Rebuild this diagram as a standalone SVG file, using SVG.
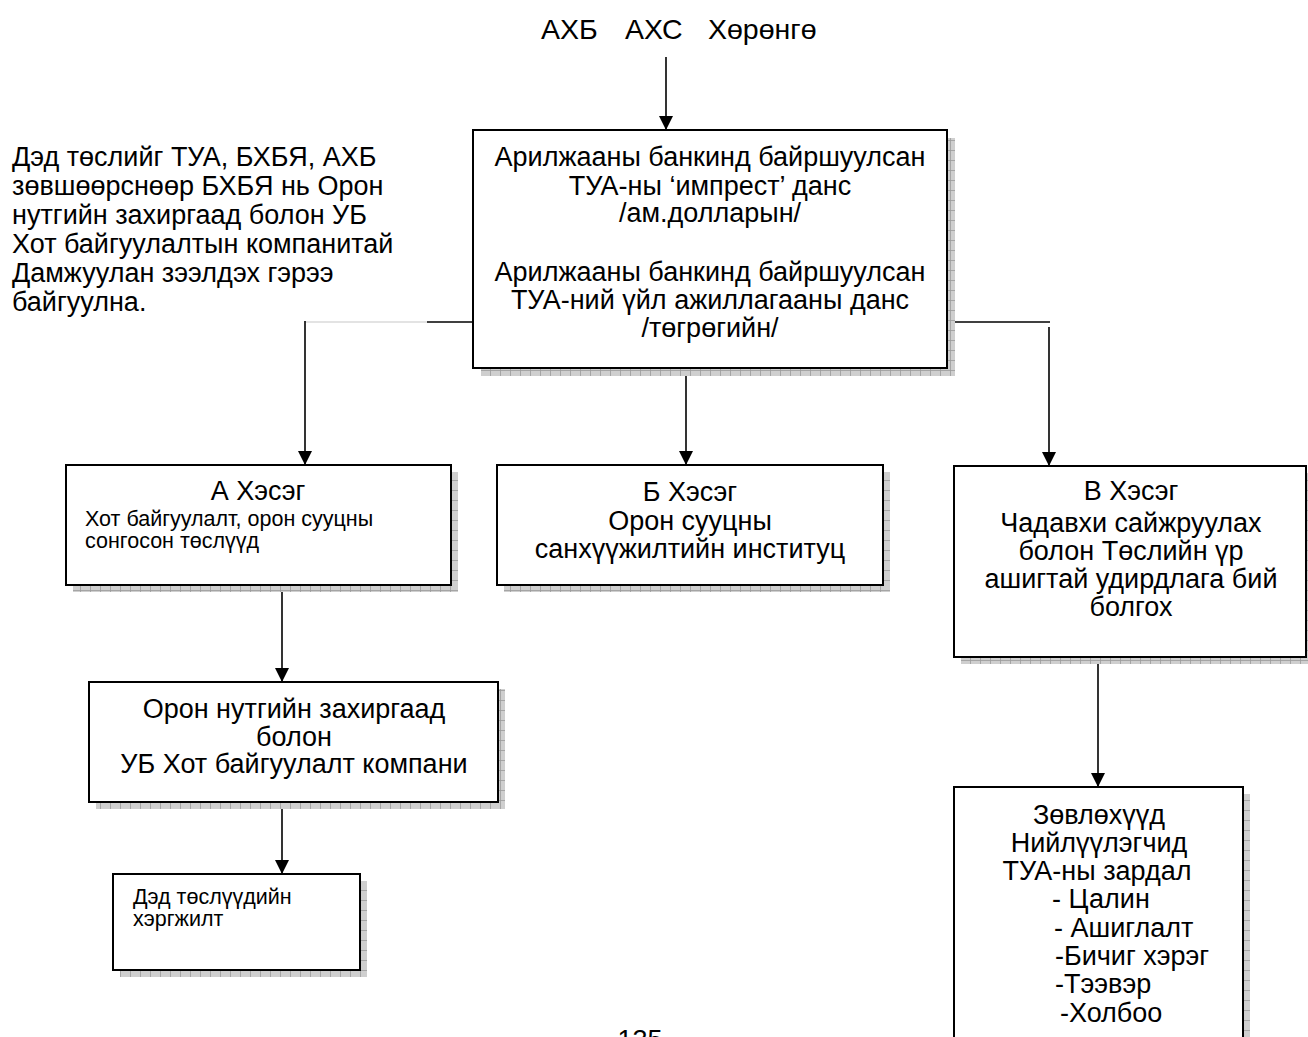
<svg xmlns="http://www.w3.org/2000/svg" width="1308" height="1037" viewBox="0 0 1308 1037">
  <defs>
    <pattern id="hatch" width="10" height="10" patternUnits="userSpaceOnUse">
      <rect width="10" height="10" fill="#cfcfcf"/>
      <path d="M0,0.5 H10 M0.5,0 V10" stroke="#9a9a9a" stroke-width="0.8" fill="none"/>
    </pattern>
    <marker id="arr" markerUnits="userSpaceOnUse" markerWidth="14" markerHeight="14" refX="14" refY="7" orient="auto">
      <path d="M0,0 L14,7 L0,14 z" fill="#000"/>
    </marker>
  </defs>
  <style>
    text { font-family: "Liberation Sans", Arial, sans-serif; fill: #000; }
    .big { font-size: 27px; }
    .top { font-size: 28.5px; }
    .small { font-size: 21.5px; }
    .c { text-anchor: middle; }
    .box { fill: #fff; stroke: #000; stroke-width: 2; }
    .shadow { fill: url(#hatch); }
    .ln { stroke: #000; stroke-width: 1.6; fill: none; }
    .arr { marker-end: url(#arr); }
  </style>
  <rect width="1308" height="1037" fill="#fff"/>

  <g id="source-label">
    <text class="top" y="39"><tspan x="541">АХБ</tspan><tspan x="625">АХС</tspan><tspan x="708">Хөрөнгө</tspan></text>
  </g>

  <g id="note">
    <text class="big" x="12" y="166">Дэд төслийг ТУА, БХБЯ, АХБ</text>
    <text class="big" x="12" y="195">зөвшөөрснөөр БХБЯ нь Орон</text>
    <text class="big" x="12" y="224">нутгийн захиргаад болон УБ</text>
    <text class="big" x="12" y="253">Хот байгуулалтын компанитай</text>
    <text class="big" x="12" y="282">Дамжуулан зээлдэх гэрээ</text>
    <text class="big" x="12" y="311">байгуулна.</text>
  </g>

  <g id="connectors">
    <line class="ln arr" x1="666" y1="57" x2="666" y2="130"/>
    <line x1="305" y1="322" x2="427" y2="322" stroke="#c8c8c8" stroke-width="1.2"/>
    <line class="ln" x1="427" y1="322" x2="473" y2="322"/>
    <line class="ln arr" x1="305" y1="321" x2="305" y2="465"/>
    <line class="ln arr" x1="686" y1="368" x2="686" y2="465"/>
    <line class="ln" x1="947" y1="322" x2="1050" y2="322"/>
    <line class="ln arr" x1="1049" y1="327" x2="1049" y2="466"/>
    <line class="ln arr" x1="282" y1="585" x2="282" y2="682"/>
    <line class="ln arr" x1="282" y1="802" x2="282" y2="874"/>
    <line class="ln arr" x1="1098" y1="657" x2="1098" y2="787"/>
  </g>

  <g id="accounts">
    <rect class="shadow" x="481" y="138" width="474" height="238"/>
    <rect class="box" x="473" y="130" width="474" height="238"/>
    <text class="big c" x="710" y="166">Арилжааны банкинд байршуулсан</text>
    <text class="big c" x="710" y="195">ТУА-ны ‘импрест’ данс</text>
    <text class="big c" x="710" y="222">/ам.долларын/</text>
    <text class="big c" x="710" y="281">Арилжааны банкинд байршуулсан</text>
    <text class="big c" x="710" y="309">ТУА-ний үйл ажиллагааны данс</text>
    <text class="big c" x="710" y="337">/төгрөгийн/</text>
  </g>

  <g id="part-a">
    <rect class="shadow" x="73" y="472" width="385" height="120"/>
    <rect class="box" x="66" y="465" width="385" height="120"/>
    <text class="big c" x="258" y="500">А Хэсэг</text>
    <text class="small" x="85" y="526">Хот байгуулалт, орон сууцны</text>
    <text class="small" x="85" y="548">сонгосон төслүүд</text>
  </g>

  <g id="part-b">
    <rect class="shadow" x="504" y="472" width="386" height="120"/>
    <rect class="box" x="497" y="465" width="386" height="120"/>
    <text class="big c" x="690" y="501">Б Хэсэг</text>
    <text class="big c" x="690" y="530">Орон сууцны</text>
    <text class="big c" x="690" y="558">санхүүжилтийн институц</text>
  </g>

  <g id="part-c">
    <rect class="shadow" x="961" y="473" width="352" height="191"/>
    <rect class="box" x="954" y="466" width="352" height="191"/>
    <text class="big c" x="1131" y="500">В Хэсэг</text>
    <text class="big c" x="1131" y="532">Чадавхи сайжруулах</text>
    <text class="big c" x="1131" y="560">болон Төслийн үр</text>
    <text class="big c" x="1131" y="588">ашигтай удирдлага бий</text>
    <text class="big c" x="1131" y="616">болгох</text>
  </g>

  <g id="local-gov">
    <rect class="shadow" x="96" y="689" width="409" height="120"/>
    <rect class="box" x="89" y="682" width="409" height="120"/>
    <text class="big c" x="294" y="718">Орон нутгийн захиргаад</text>
    <text class="big c" x="294" y="746">болон</text>
    <text class="big c" x="294" y="773">УБ Хот байгуулалт компани</text>
  </g>

  <g id="subprojects">
    <rect class="shadow" x="120" y="881" width="247" height="96"/>
    <rect class="box" x="113" y="874" width="247" height="96"/>
    <text class="small" x="133" y="904">Дэд төслүүдийн</text>
    <text class="small" x="133" y="926">хэргжилт</text>
  </g>

  <g id="consultants">
    <rect class="shadow" x="961" y="794" width="289" height="270"/>
    <rect class="box" x="954" y="787" width="289" height="270"/>
    <text class="big c" x="1099" y="824">Зөвлөхүүд</text>
    <text class="big c" x="1099" y="852">Нийлүүлэгчид</text>
    <text class="big c" x="1097" y="880">ТУА-ны зардал</text>
    <text class="big" x="1052" y="908">- Цалин</text>
    <text class="big" x="1054" y="937">- Ашиглалт</text>
    <text class="big" x="1055" y="965">-Бичиг хэрэг</text>
    <text class="big" x="1055" y="993">-Тээвэр</text>
    <text class="big" x="1060" y="1022">-Холбоо</text>
  </g>

  <g id="page-number">
    <text class="big c" x="640" y="1049">135</text>
  </g>
</svg>
